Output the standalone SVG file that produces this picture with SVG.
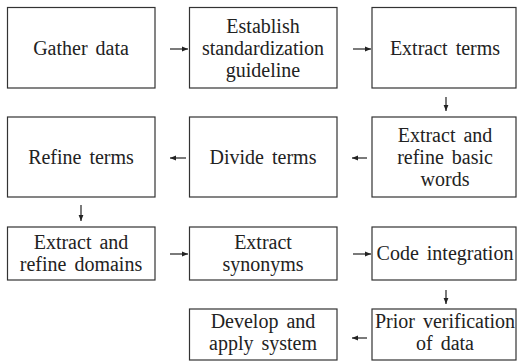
<svg xmlns="http://www.w3.org/2000/svg" width="517" height="361" viewBox="0 0 517 361">
<style>
.box{fill:#fff;stroke:#333;stroke-width:1.2}
text{font-size:20px;fill:#222;text-anchor:middle;word-spacing:3px}
.c{stroke:#222;stroke-width:1.2;fill:none;marker-end:url(#ah)}
</style>
<defs>
<marker id="ah" markerUnits="userSpaceOnUse" markerWidth="7" markerHeight="6" refX="6" refY="3" orient="auto">
<path d="M0,0.6 L6,3 L0,5.4 Z" fill="#222"/>
</marker>
</defs>
<rect width="517" height="361" fill="#fff"/>
<g font-family="Liberation Serif, Times New Roman, serif">
<g id="n1"><rect class="box" x="7.5" y="7.5" width="147.5" height="80.5"/><text x="81" y="55">Gather data</text></g>
<g id="n2"><rect class="box" x="189.5" y="7.5" width="147.5" height="80.5"/><text x="263" y="33">Establish</text><text x="263" y="55">standardization</text><text x="263" y="77">guideline</text></g>
<g id="n3"><rect class="box" x="372" y="7.5" width="144" height="80.5"/><text x="445" y="55">Extract terms</text></g>
<g id="n4"><rect class="box" x="372" y="117" width="144" height="80"/><text x="445" y="142">Extract and</text><text x="445" y="164">refine basic</text><text x="445" y="186">words</text></g>
<g id="n5"><rect class="box" x="189.5" y="117" width="147.5" height="80"/><text x="263" y="164">Divide terms</text></g>
<g id="n6"><rect class="box" x="7.5" y="117" width="147.5" height="80"/><text x="81" y="164">Refine terms</text></g>
<g id="n7"><rect class="box" x="7.5" y="227" width="147.5" height="53"/><text x="81" y="249">Extract and</text><text x="81" y="271">refine domains</text></g>
<g id="n8"><rect class="box" x="189.5" y="227" width="147.5" height="53"/><text x="263" y="249">Extract</text><text x="263" y="271">synonyms</text></g>
<g id="n9"><rect class="box" x="372" y="227" width="144" height="53"/><text x="445" y="260">Code integration</text></g>
<g id="n10"><rect class="box" x="372" y="309" width="144" height="51"/><text x="445" y="328">Prior verification</text><text x="445" y="350">of data</text></g>
<g id="n11"><rect class="box" x="189.5" y="309" width="147.5" height="51"/><text x="263" y="328">Develop and</text><text x="263" y="350">apply system</text></g>
</g>
<g id="connectors">
<path class="c" d="M170,49 H188"/>
<path class="c" d="M353,49 H371"/>
<path class="c" d="M446,97 V111"/>
<path class="c" d="M367,158 H352"/>
<path class="c" d="M186,158 H170"/>
<path class="c" d="M81,205 V221"/>
<path class="c" d="M170,254 H188"/>
<path class="c" d="M353,254 H371"/>
<path class="c" d="M446,290 V304"/>
<path class="c" d="M367,338 H352"/>
</g>
</svg>
